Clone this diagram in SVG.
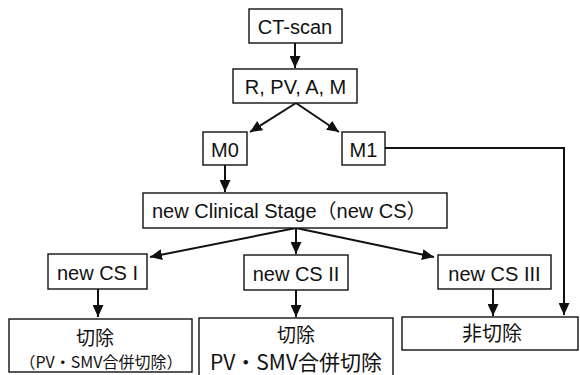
<svg xmlns="http://www.w3.org/2000/svg" width="580" height="375" viewBox="0 0 580 375">
<style>
.box{fill:#fff;stroke:#111;stroke-width:1.4}
.t{font-family:"Liberation Sans","Noto Sans CJK JP",sans-serif;font-size:20px;fill:#111;text-anchor:middle}
.j{font-family:"Noto Sans CJK JP","Liberation Sans",sans-serif;fill:#111;text-anchor:middle}
.c{stroke:#111;stroke-width:2;fill:none}
</style>
<defs>
<marker id="ah" markerUnits="userSpaceOnUse" markerWidth="13" markerHeight="11" refX="12" refY="5.5" orient="auto">
<path d="M0,0 L12,5.5 L0,11 z" fill="#111"/>
</marker>
</defs>
<rect width="580" height="375" fill="#fff"/>
<g id="connectors">
<line class="c" x1="295" y1="43" x2="295" y2="68" marker-end="url(#ah)"/>
<line class="c" x1="296" y1="103" x2="250" y2="132" marker-end="url(#ah)"/>
<line class="c" x1="296" y1="103" x2="339" y2="132" marker-end="url(#ah)"/>
<polyline class="c" points="385,148 564,148 564,315" marker-end="url(#ah)"/>
<line class="c" x1="225" y1="165" x2="225" y2="192" marker-end="url(#ah)"/>
<line class="c" x1="296" y1="228" x2="150" y2="257" marker-end="url(#ah)"/>
<line class="c" x1="296" y1="228" x2="296" y2="254" marker-end="url(#ah)"/>
<line class="c" x1="296" y1="228" x2="434" y2="257" marker-end="url(#ah)"/>
<line class="c" x1="98" y1="289" x2="98" y2="317" marker-end="url(#ah)"/>
<line class="c" x1="296" y1="290" x2="296" y2="317" marker-end="url(#ah)"/>
<line class="c" x1="493" y1="289" x2="493" y2="316" marker-end="url(#ah)"/>
</g>
<g id="ct"><rect class="box" x="249" y="9" width="93" height="34"/><text class="t" x="295" y="34" font-size="21">CT-scan</text></g>
<g id="rpvam"><rect class="box" x="233" y="69" width="124" height="34"/><text class="t" x="295.5" y="94">R, PV, A, M</text></g>
<g id="m0"><rect class="box" x="203" y="132" width="44" height="33"/><text class="t" x="225" y="157">M0</text></g>
<g id="m1"><rect class="box" x="342" y="132" width="43" height="33"/><text class="t" x="363.5" y="157">M1</text></g>
<g id="ncs"><rect class="box" x="143" y="193" width="304" height="35"/><text class="t" x="152" y="218" style="text-anchor:start">new Clinical Stage（new CS）</text></g>
<g id="cs1"><rect class="box" x="48" y="254" width="99" height="35"/><text class="t" x="97.5" y="280">new CS I</text></g>
<g id="cs2"><rect class="box" x="244" y="255" width="104" height="35"/><text class="t" x="296" y="281">new CS II</text></g>
<g id="cs3"><rect class="box" x="438" y="255" width="113" height="34"/><text class="t" x="494.5" y="281">new CS III</text></g>
<g id="r1"><rect class="box" x="9" y="319" width="183" height="53"/>
<text class="j" x="95" y="345" font-size="19">切除</text>
<text class="j" x="101" y="368" font-size="16">（PV・SMV合併切除）</text></g>
<g id="r2"><rect class="box" x="199" y="318" width="194" height="58"/>
<text class="j" x="296" y="342" font-size="19">切除</text>
<text class="j" x="296" y="370" font-size="21">PV・SMV合併切除</text></g>
<g id="r3"><rect class="box" x="402" y="317" width="176" height="33"/>
<text class="j" x="492" y="341" font-size="20">非切除</text></g>
</svg>
